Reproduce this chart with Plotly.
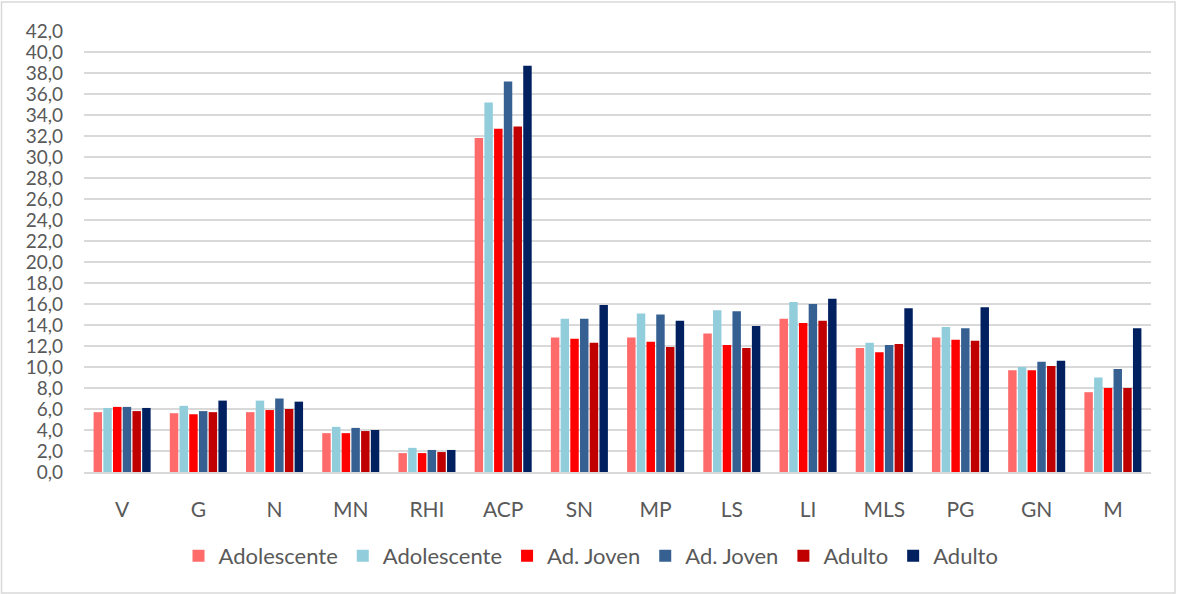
import plotly.graph_objects as go

categories = ["V", "G", "N", "MN", "RHI", "ACP", "SN", "MP", "LS", "LI", "MLS", "PG", "GN", "M"]

series_names = ["Adolescente", "Adolescente", "Ad. Joven", "Ad. Joven", "Adulto", "Adulto"]

adolescente_1 = [5.7, 5.6, 5.7, 3.7, 1.8, 31.8, 12.8, 12.8, 13.2, 14.6, 11.8, 12.8, 9.7, 7.6]
adolescente_2 = [6.1, 6.3, 6.8, 4.3, 2.3, 35.2, 14.6, 15.1, 15.4, 16.2, 12.3, 13.8, 10.0, 9.0]
ad_joven_1 = [6.2, 5.5, 5.9, 3.7, 1.8, 32.7, 12.7, 12.4, 12.1, 14.2, 11.4, 12.6, 9.7, 8.0]
ad_joven_2 = [6.2, 5.8, 7.0, 4.2, 2.1, 37.2, 14.6, 15.0, 15.3, 16.0, 12.1, 13.7, 10.5, 9.8]
adulto_1 = [5.8, 5.7, 6.0, 3.9, 1.9, 32.9, 12.3, 11.9, 11.8, 14.4, 12.2, 12.5, 10.1, 8.0]
adulto_2 = [6.1, 6.8, 6.7, 4.0, 2.1, 38.7, 15.9, 14.4, 13.9, 16.5, 15.6, 15.7, 10.6, 13.7]

series_values = [adolescente_1, adolescente_2, ad_joven_1, ad_joven_2, adulto_1, adulto_2]
colors = ["#FF6B6B", "#92CDDC", "#FF0000", "#376092", "#C00000", "#002060"]

y_ticks = [i * 2 for i in range(22)]
y_tick_labels = [f"{v:.1f}".replace(".", ",") for v in y_ticks]

FONT = "Lato"

fig = go.Figure()
for name, vals, col in zip(series_names, series_values, colors):
    fig.add_trace(go.Bar(
        x=categories, y=vals, name=name,
        marker=dict(color=col, line=dict(width=0)),
    ))

# plot area geometry (px)
L, R, T, B = 84, 29, 31, 122
W, H = 1180, 594
pw = W - L - R
ph = H - T - B

def px_x(p):
    return (p - L) / pw

def px_y(p):
    return (H - B - p) / ph

fig.update_layout(
    width=W, height=H,
    margin=dict(l=L, r=R, t=T, b=B, autoexpand=False),
    paper_bgcolor="white", plot_bgcolor="white",
    barmode="group", bargap=0.235, bargroupgap=0.13,
    font=dict(family=FONT, color="#595959", size=19),
    showlegend=True,
    legend=dict(
        orientation="h", x=px_x(591), xanchor="center",
        y=px_y(556), yanchor="middle",
        font=dict(family=FONT, size=22, color="#595959"),
        traceorder="normal", itemwidth=30,
        bgcolor="rgba(0,0,0,0)",
    ),
    xaxis=dict(
        type="category", showgrid=False, showline=True,
        linecolor="#D9D9D9", linewidth=2,
        tickfont=dict(family=FONT, size=21, color="#595959"),
        ticks="", ticklabelstandoff=18, zeroline=False,
    ),
    yaxis=dict(
        range=[0, 42], tickvals=y_ticks, ticktext=y_tick_labels,
        showgrid=True, gridcolor="#D9D9D9", gridwidth=1.5,
        zeroline=False, showline=False,
        tickfont=dict(family=FONT, size=19, color="#595959"),
        ticks="", ticklabelstandoff=20,
    ),
    shapes=[dict(
        type="rect", xref="paper", yref="paper",
        x0=px_x(1.5), x1=px_x(1175), y0=px_y(593), y1=px_y(2),
        line=dict(color="#D9D9D9", width=1.5), fillcolor="rgba(0,0,0,0)",
        layer="below",
    )],
)

fig.write_html("out.html")
